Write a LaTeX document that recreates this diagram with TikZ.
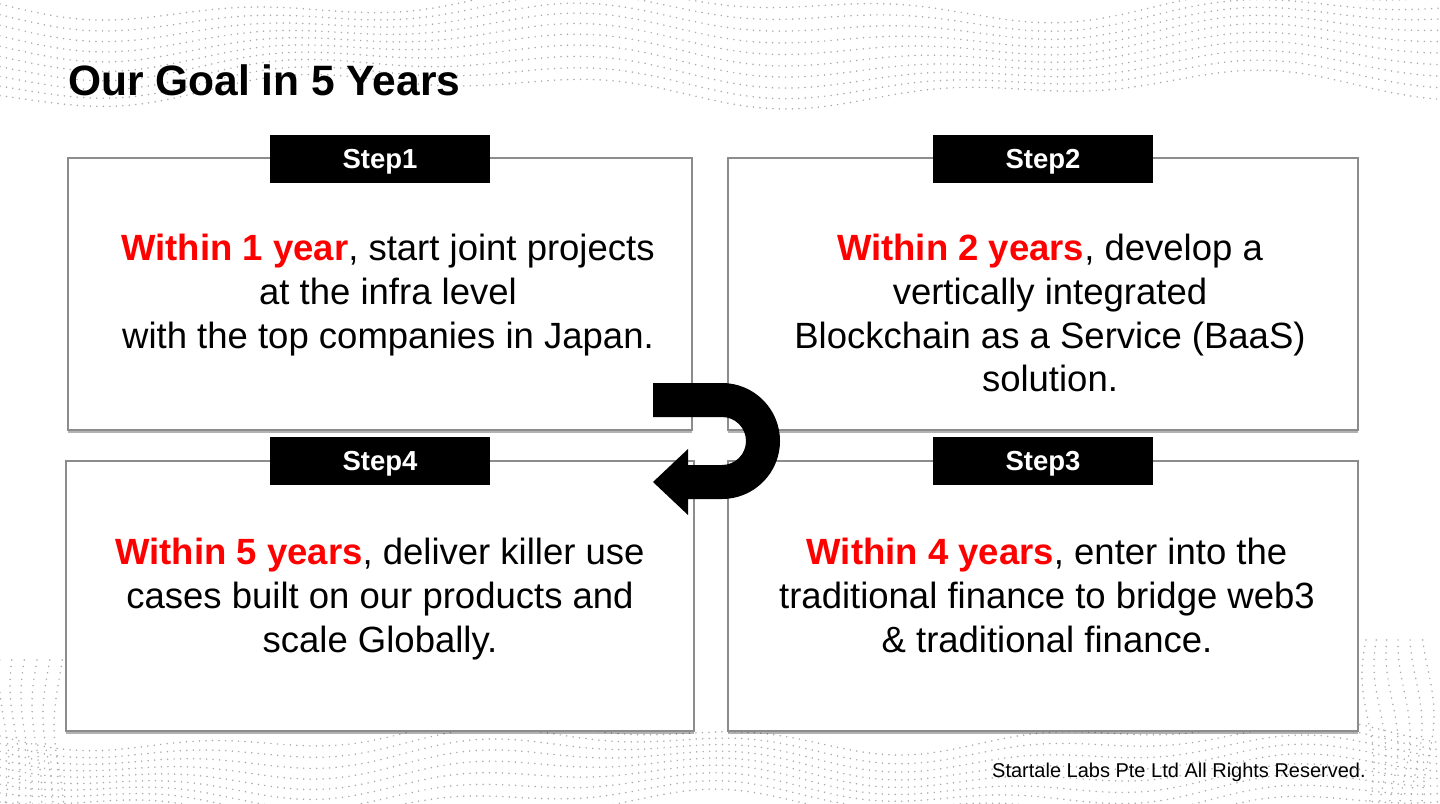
\documentclass[tikz,border=0pt]{standalone}
\usepackage{fontspec}
\setmainfont{Liberation Sans}
\usetikzlibrary{shadows}
\definecolor{boxgray}{RGB}{140,140,140}
\definecolor{dotgray}{RGB}{170,170,170}
\newcommand\redlead[1]{\textcolor{red}{\bfseries #1}}
\begin{document}
\begin{tikzpicture}[x=1pt,y=-1pt,
  dotline/.style={draw=dotgray, line width=1.7pt, line cap=round, dash pattern=on 0pt off 6.5pt},
  panel/.style={draw=boxgray, line width=1.6pt, fill=white, inner sep=0pt,
    drop shadow={shadow xshift=0pt, shadow yshift=-2.5pt, fill=black, opacity=0.3}},
  steplabel/.style={fill=black, text=white, inner sep=0pt, minimum width=220pt, minimum height=48pt,
    text depth=0pt, font=\bfseries\fontsize{27.5}{30}\selectfont},
  body/.style={inner sep=0pt, anchor=base, font=\fontsize{36.5}{44}\selectfont},
]
\useasboundingbox (0,0) rectangle (1440,803);
\fill[white] (0,0) rectangle (1440,803);

% background dotted waves
\foreach \i in {0,...,9}{
  \draw[dotline] plot[domain=0:1440, samples=90, smooth] (\x,{4+9.5*\i + 12*sin(\x*0.45+\i*9) + 8*sin(\x*1.1-\i*5)});
}
\foreach \i in {0,...,8}{
  \draw[dotline] plot[domain=0:1440, samples=90, smooth] (\x,{736+9*\i + 12*sin(\x*0.5-\i*10) + 7*sin(\x*1.3+\i*7)});
}
\foreach \i in {0,...,5}{
  \draw[dotline] plot[domain=640:803, samples=30, smooth] ({1368+12*\i+6*sin(\x*2+\i*20)},\x);
  \draw[dotline] plot[domain=660:803, samples=30, smooth] ({4+11*\i+5*sin(\x*2-\i*20)},\x);
}

% panels
\node[panel, minimum width=624pt, minimum height=272pt] (b1) at (380,294) {};
\node[panel, minimum width=630pt, minimum height=272pt] (b2) at (1043,294) {};
\node[panel, minimum width=628pt, minimum height=270pt] (b4) at (380,596) {};
\node[panel, minimum width=630pt, minimum height=270pt] (b3) at (1043,596) {};

% step labels
\node[steplabel] (s1) at (380,159) {Step1};
\node[steplabel] (s2) at (1043,159) {Step2};
\node[steplabel] (s4) at (380,461) {Step4};
\node[steplabel] (s3) at (1043,461) {Step3};

% texts
\node[body] (t1a) at (388,260) {\redlead{Within 1 year}, start joint projects};
\node[body] (t1b) at (388,304) {at the infra level};
\node[body] (t1c) at (388,348) {with the top companies in Japan.};

\node[body] (t2a) at (1050,260) {\redlead{Within 2 years}, develop a};
\node[body] (t2b) at (1050,304) {vertically integrated};
\node[body] (t2c) at (1050,348) {Blockchain as a Service (BaaS)};
\node[body] (t2d) at (1050,391) {solution.};

\node[body] (t4a) at (380,564) {\redlead{Within 5 years}, deliver killer use};
\node[body] (t4b) at (380,608) {cases built on our products and};
\node[body] (t4c) at (380,652) {scale Globally.};

\node[body] (t3a) at (1047,564) {\redlead{Within 4 years}, enter into the};
\node[body] (t3b) at (1047,608) {traditional finance to bridge web3};
\node[body] (t3c) at (1047,652) {\& traditional finance.};

% U-turn arrow
\fill[black] (653,383) -- (722,383)
  .. controls (754,383) and (780,409) .. (780,441)
  .. controls (780,473) and (754,499) .. (722,499)
  -- (688,499) -- (688,515) -- (653,482) -- (688,449) -- (688,465) -- (722,465)
  .. controls (735.25,465) and (746,454.25) .. (746,441)
  .. controls (746,427.75) and (735.25,417) .. (722,417)
  -- (653,417) -- cycle;

% title and footer
\node[anchor=base west, inner sep=0pt, font=\bfseries\fontsize{42.5}{50}\selectfont] (title) at (68,95) {Our Goal in 5 Years};
\node[anchor=base west, inner sep=0pt, font=\fontsize{20}{24}\selectfont] (footer) at (992,777) {Startale Labs Pte Ltd All Rights Reserved.};
\end{tikzpicture}
\end{document}
